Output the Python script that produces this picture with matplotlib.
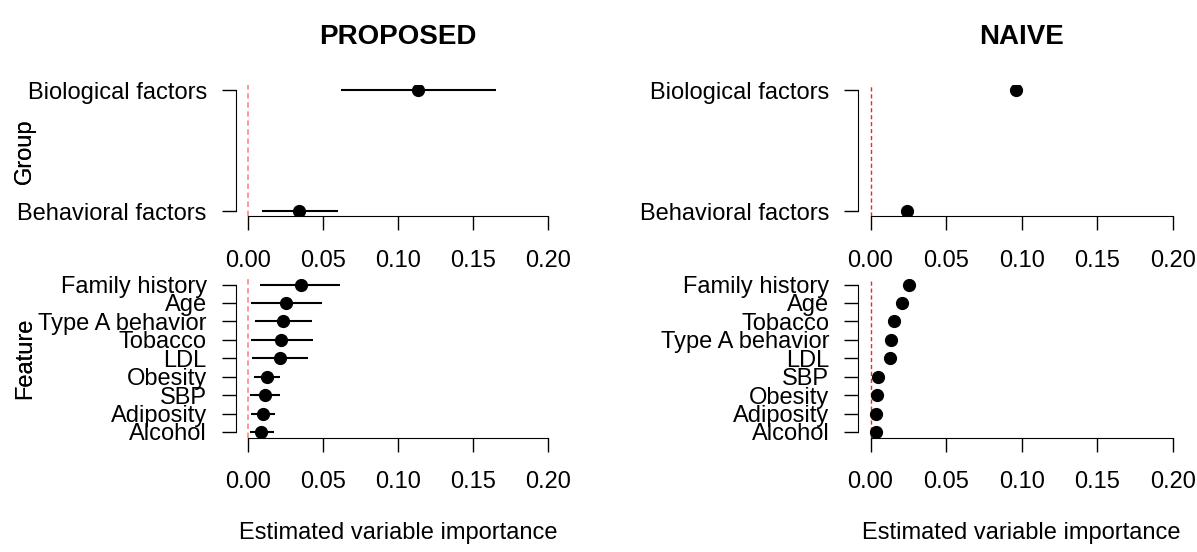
import matplotlib.pyplot as plt

plt.rcParams['font.family'] = ['Liberation Sans', 'DejaVu Sans']

# group-level importance (bottom to top on the y axis)
groups = ['Behavioral factors', 'Biological factors']
prop_group_est = [0.034, 0.113]
prop_group_lo = [0.009, 0.062]
prop_group_hi = [0.060, 0.165]
naive_group_est = [0.024, 0.096]

# feature-level importance, listed top to bottom
prop_features = ['Family history', 'Age', 'Type A behavior', 'Tobacco', 'LDL',
                 'Obesity', 'SBP', 'Adiposity', 'Alcohol']
prop_feat_est = [0.035, 0.0254, 0.0233, 0.0223, 0.0215, 0.0125, 0.0113, 0.0097, 0.0087]
prop_feat_lo = [0.008, 0.002, 0.0044, 0.0018, 0.0028, 0.0038, 0.001, 0.0018, 0.0013]
prop_feat_hi = [0.0615, 0.049, 0.0425, 0.043, 0.040, 0.0215, 0.0213, 0.0177, 0.0172]

naive_features = ['Family history', 'Age', 'Tobacco', 'Type A behavior', 'LDL',
                  'SBP', 'Obesity', 'Adiposity', 'Alcohol']
naive_feat_est = [0.0255, 0.0211, 0.0157, 0.0133, 0.0128, 0.0047, 0.0042, 0.0037, 0.0034]

xticks = [0.0, 0.05, 0.10, 0.15, 0.20]
xtick_labels = ['0.00', '0.05', '0.10', '0.15', '0.20']

FS = 17
W, H = 1197, 552
fig = plt.figure(figsize=(W / 100, H / 100), dpi=100)


def add_ax(left, right, top, bottom):
    return fig.add_axes([left / W, 1 - bottom / H, (right - left) / W, (bottom - top) / H])


def style(ax, labels, ylab, ref_color, ref_lw):
    n = len(labels)
    ax.set_xlim(-0.008, 0.208)
    ax.set_ylim(1 - 0.04 * (n - 1), n + 0.04 * (n - 1))
    ax.axvline(0, color=ref_color, ls=(0, (3, 2)), lw=ref_lw, zorder=1)
    ax.set_xticks(xticks)
    ax.set_xticklabels(xtick_labels)
    ax.set_yticks(range(1, n + 1))
    ax.set_yticklabels(labels)
    for s in ['top', 'right']:
        ax.spines[s].set_visible(False)
    ax.spines['bottom'].set_bounds(0, 0.2)
    ax.spines['left'].set_bounds(1, n)
    ax.tick_params(axis='both', direction='out', length=10, width=1, labelsize=FS)
    ax.tick_params(axis='x', pad=14)
    ax.tick_params(axis='y', pad=11)
    ax.set_ylabel(ylab, fontsize=FS)


cols = [(236, 560), (858.4, 1185.1)]
for c, (left, right) in enumerate(cols):
    ax_g = add_ax(left, right, 85.2, 216.3)
    ax_f = add_ax(left, right, 278.6, 437.9)

    if c == 0:
        ypos = list(range(1, len(groups) + 1))
        ax_g.hlines(ypos, prop_group_lo, prop_group_hi, color='black', lw=1.5)
        ax_g.plot(prop_group_est, ypos, 'o', color='black', ms=8.5)
        fpos = list(range(len(prop_features), 0, -1))
        ax_f.hlines(fpos, prop_feat_lo, prop_feat_hi, color='black', lw=1.5)
        ax_f.plot(prop_feat_est, fpos, 'o', color='black', ms=8.5)
        style(ax_g, groups, 'Group', '#ff9090', 1.3)
        style(ax_f, prop_features[::-1], 'Feature', '#ff9090', 1.3)
        ax_g.set_title('PROPOSED', fontsize=20, fontweight='bold', pad=30)
    else:
        ypos = list(range(1, len(groups) + 1))
        ax_g.plot(naive_group_est, ypos, 'o', color='black', ms=8.5)
        fpos = list(range(len(naive_features), 0, -1))
        ax_f.plot(naive_feat_est, fpos, 'o', color='black', ms=8.5)
        style(ax_g, groups, 'Group', '#ff2020', 1.0)
        style(ax_f, naive_features[::-1], 'Feature', '#ff2020', 1.0)
        ax_g.set_title('NAIVE', fontsize=20, fontweight='bold', pad=30)

    ax_g.yaxis.set_label_coords((36 - left) / (right - left), 0.5)
    ax_f.yaxis.set_label_coords((36 - left) / (right - left), 0.5)
    ax_f.set_xlabel('Estimated variable importance', fontsize=FS)
    ax_f.xaxis.set_label_coords(0.5, -0.53)

fig.savefig('out.png', dpi=100)
